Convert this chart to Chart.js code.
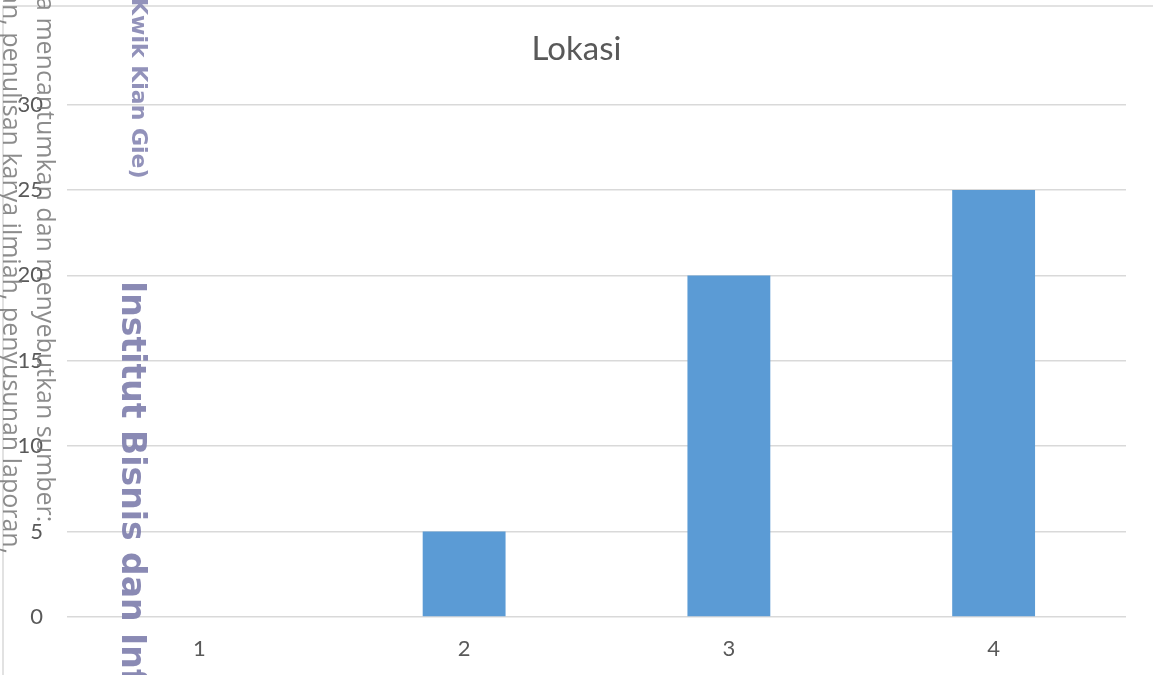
<!DOCTYPE html>
<html>
<head>
<meta charset="utf-8">
<script src="https://cdn.jsdelivr.net/npm/chart.js@4.4.1/dist/chart.umd.min.js"></script>
<style>
html,body{margin:0;padding:0;background:#fff;}
#wrap{position:relative;width:1153px;height:675px;}
</style>
</head>
<body>
<div id="wrap"><canvas id="chart" width="1153" height="675"></canvas></div>
<script>
const chartTitle = "Lokasi";
const categories = ["1", "2", "3", "4"];
const values = [0, 5, 20, 25];
const yTicks = [0, 5, 10, 15, 20, 25, 30];

// scanned-page watermark text that sits over the chart
const stampLines = [
    {text: "an, penulisan karya ilmiah, penyusunan laporan,", x: 3, y: -10, font: "25px 'Open Sans'", color: "rgba(120,120,120,0.85)"},
    {text: "a mencantumkan dan menyebutkan sumber:", x: 37, y: -3, font: "25px 'Open Sans'", color: "rgba(120,120,120,0.85)"},
    {text: "(Kwik Kian Gie)", x: 132, y: -12, font: "bold 22px 'DejaVu Sans'", color: "rgba(140,140,182,0.95)"},
    {text: "Institut Bisnis dan Informatika", x: 122, y: 281, font: "bold 33px 'DejaVu Sans'", color: "rgba(132,132,176,0.95)"}
];

const gridColor = "#d9d9d9";
const textColor = "#595959";

const stampPlugin = {
    id: "stamp",
    beforeDraw(chart){
        const ctx = chart.ctx;
        ctx.save();
        ctx.strokeStyle = gridColor;
        ctx.lineWidth = 1.5;
        ctx.beginPath();
        ctx.moveTo(3, 680);
        ctx.lineTo(3, 6);
        ctx.lineTo(1160, 6);
        ctx.stroke();
        ctx.restore();
    },
    afterDraw(chart){
        const ctx = chart.ctx;
        stampLines.forEach(s => {
            ctx.save();
            ctx.translate(s.x, s.y);
            ctx.rotate(Math.PI / 2);
            ctx.font = s.font;
            ctx.fillStyle = s.color;
            ctx.textBaseline = "alphabetic";
            ctx.textAlign = "left";
            ctx.fillText(s.text, 0, 0);
            ctx.restore();
        });
    }
};

new Chart(document.getElementById("chart"), {
    type: "bar",
    data: {
        labels: categories,
        datasets: [{
            data: values,
            backgroundColor: "#5b9bd5",
            borderWidth: 0,
            barPercentage: 0.313,
            categoryPercentage: 1
        }]
    },
    options: {
        responsive: false,
        animation: false,
        layout: {padding: 0},
        plugins: {
            legend: {display: false},
            tooltip: {enabled: false},
            title: {
                display: true,
                text: chartTitle,
                color: textColor,
                font: {family: "Lato", size: 33, weight: "normal"},
                padding: {top: 30, bottom: 35}
            }
        },
        scales: {
            x: {
                grid: {display: false},
                border: {display: false},
                ticks: {color: textColor, font: {family: "Lato", size: 22}, padding: 11},
                afterFit(scale){ scale.height = 58; }
            },
            y: {
                min: yTicks[0],
                max: yTicks[yTicks.length - 1],
                afterBuildTicks(scale){ scale.ticks = yTicks.map(v => ({value: v})); },
                grid: {color: gridColor, lineWidth: 1.5, drawTicks: false},
                border: {display: false},
                ticks: {color: textColor, font: {family: "Lato", size: 22}, padding: 24},
                afterFit(scale){ scale.width = 67; }
            },
            // empty spacer on the right so the plot stops short of the edge
            spacer: {
                axis: "y",
                position: "right",
                grid: {display: false},
                border: {display: false},
                ticks: {display: false},
                afterFit(scale){ scale.width = 27; }
            }
        }
    },
    plugins: [stampPlugin]
});
</script>
</body>
</html>
